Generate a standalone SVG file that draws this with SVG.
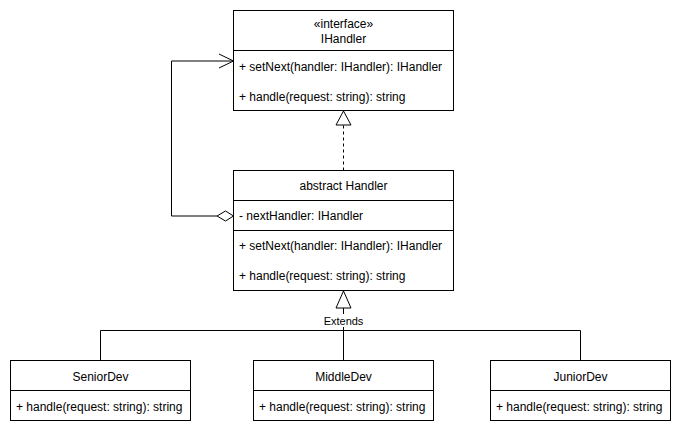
<svg xmlns="http://www.w3.org/2000/svg" width="681" height="431" viewBox="0 0 681 431">
<style>
.box{fill:#fff;stroke:#000;stroke-width:1}
.ln{fill:none;stroke:#000;stroke-width:1}
text{font-family:"Liberation Sans",Arial,sans-serif;font-size:12px;fill:#000}
.c{text-anchor:middle}
.lbl{font-size:11px}
</style>
<rect width="681" height="431" fill="#fff"/>
<g id="connectors">
  <path class="ln" d="M343.5 170.5 V125" stroke-dasharray="3,3"/>
  <path class="ln" d="M343.5 111 L351 125 H336 Z" fill="#fff"/>
  <path class="ln" d="M217 216 H171.5 V61 H233"/>
  <path class="ln" d="M219 54 L233.5 61 L219 68"/>
  <path class="ln" d="M233.5 216 L225.5 211 L217 216 L225.5 221 Z" fill="#fff"/>
  <path class="ln" d="M343.5 308 V360.5 M100.5 360.5 V330.5 H580.5 V360.5"/>
  <path class="ln" d="M343.5 291 L351 308 H336 Z" fill="#fff"/>
  <rect x="322" y="314" width="43" height="13" fill="#fff"/>
  <text class="c lbl" x="343.5" y="324.5">Extends</text>
</g>
<g id="IHandler">
  <rect class="box" x="233.5" y="10.5" width="220" height="100"/>
  <line class="ln" x1="233.5" y1="50.5" x2="453.5" y2="50.5"/>
  <text class="c" x="343.5" y="28">«interface»</text>
  <text class="c" x="343.5" y="43">IHandler</text>
  <text x="239" y="71">+ setNext(handler: IHandler): IHandler</text>
  <text x="239" y="101">+ handle(request: string): string</text>
</g>
<g id="Handler">
  <rect class="box" x="233.5" y="170.5" width="220" height="120"/>
  <line class="ln" x1="233.5" y1="200.5" x2="453.5" y2="200.5"/>
  <line class="ln" x1="233.5" y1="230.5" x2="453.5" y2="230.5"/>
  <text class="c" x="343.5" y="190">abstract Handler</text>
  <text x="239" y="220">- nextHandler: IHandler</text>
  <text x="239" y="250">+ setNext(handler: IHandler): IHandler</text>
  <text x="239" y="280">+ handle(request: string): string</text>
</g>
<g id="SeniorDev">
  <rect class="box" x="10.5" y="360.5" width="180" height="60"/>
  <line class="ln" x1="10.5" y1="390.5" x2="190.5" y2="390.5"/>
  <text class="c" x="100.5" y="381">SeniorDev</text>
  <text x="16" y="411">+ handle(request: string): string</text>
</g>
<g id="MiddleDev">
  <rect class="box" x="253.5" y="360.5" width="180" height="60"/>
  <line class="ln" x1="253.5" y1="390.5" x2="433.5" y2="390.5"/>
  <text class="c" x="343.5" y="381">MiddleDev</text>
  <text x="259" y="411">+ handle(request: string): string</text>
</g>
<g id="JuniorDev">
  <rect class="box" x="490.5" y="360.5" width="180" height="60"/>
  <line class="ln" x1="490.5" y1="390.5" x2="670.5" y2="390.5"/>
  <text class="c" x="580.5" y="381">JuniorDev</text>
  <text x="496" y="411">+ handle(request: string): string</text>
</g>
</svg>
